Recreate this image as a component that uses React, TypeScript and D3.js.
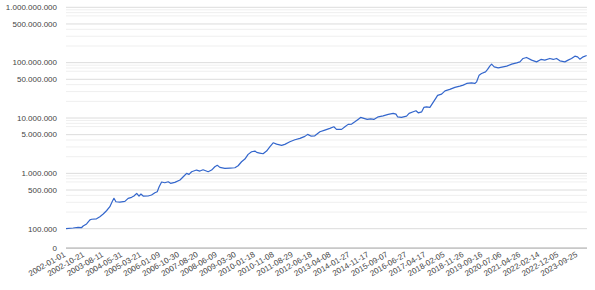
import React from "react";
import * as d3 from "d3";

const dates: string[] = [
  "2002-01-01","2002-04-21","2002-07-08","2002-09-01","2002-09-24","2002-11-16",
  "2003-01-07","2003-02-03","2003-04-19","2003-06-10","2003-08-01","2003-09-21","2003-11-12","2003-12-17",
  "2004-01-14","2004-02-14","2004-04-15","2004-07-02","2004-08-21","2004-10-14","2004-11-19",
  "2005-01-01","2005-02-06","2005-03-07","2005-04-11","2005-06-27","2005-08-19","2005-10-10","2005-11-15","2005-12-15",
  "2006-01-22","2006-03-13","2006-05-04","2006-06-10","2006-08-15","2006-11-03",
  "2007-01-04","2007-02-14","2007-03-23","2007-05-02","2007-07-17","2007-09-08","2007-10-27",
  "2008-01-14","2008-03-07","2008-04-26","2008-06-03","2008-07-13","2008-09-28","2008-12-16",
  "2009-03-03","2009-04-22","2009-06-14","2009-08-05","2009-09-24","2009-11-17",
  "2010-01-08","2010-02-04","2010-03-23","2010-05-14","2010-07-07","2010-08-26","2010-10-17","2010-12-10",
  "2011-02-25","2011-04-16","2011-07-03","2011-09-19","2011-12-06",
  "2012-02-21","2012-04-04","2012-05-23","2012-07-24","2012-10-11","2012-12-26",
  "2013-03-14","2013-05-15","2013-06-25","2013-09-12","2013-11-03","2013-12-22",
  "2014-02-15","2014-04-06","2014-05-25","2014-07-04","2014-08-23","2014-10-14","2014-12-06",
  "2015-01-25","2015-04-03","2015-06-18","2015-09-05","2015-11-21",
  "2016-01-03","2016-01-27","2016-03-28","2016-06-15","2016-07-24","2016-09-26","2016-11-08","2016-12-13",
  "2017-02-05","2017-03-10","2017-04-20","2017-06-12","2017-07-22","2017-09-13","2017-10-09","2017-12-10",
  "2018-02-01","2018-04-16","2018-07-04","2018-09-19","2018-11-10",
  "2019-01-03","2019-03-18","2019-05-09","2019-06-06","2019-07-15","2019-08-21","2019-10-22","2019-11-23","2019-12-27",
  "2020-01-24","2020-03-05","2020-05-06","2020-07-21","2020-09-14","2020-12-01",
  "2021-02-16","2021-04-07","2021-05-26","2021-07-19","2021-10-06","2021-12-21",
  "2022-02-27","2022-04-28","2022-07-15","2022-09-06","2022-10-27","2022-12-18",
  "2023-03-05","2023-04-24","2023-06-16","2023-08-07","2023-09-18","2023-10-23","2023-12-14",
  "2024-02-06",
];

const values: number[] = [
  100000,103000,106000,105000,112000,122000,
  144000,148000,151000,165000,184000,211000,250000,307000,
  354000,307000,303000,312000,354000,369000,389000,
  436000,389000,423000,389000,390000,406000,447000,466000,573000,
  697000,677000,705000,660000,688000,757000,
  894000,1000000,959000,1070000,1147000,1100000,1161000,
  1069000,1147000,1316000,1395000,1283000,1231000,1247000,
  1262000,1372000,1620000,1812000,2203000,2454000,
  2526000,2393000,2325000,2259000,2526000,3021000,3567000,3380000,
  3202000,3338000,3719000,4042000,4284000,
  4655000,5058000,4713000,4772000,5635000,6048000,
  6492000,6937000,6227000,6227000,6937000,7664000,
  7760000,8538000,9434000,10252000,9835000,9434000,9674000,
  9434000,10512000,10958000,11614000,12106000,
  11760000,10512000,10252000,10822000,12106000,12937000,13490000,12413000,
  12937000,15535000,15928000,15535000,18343000,22870000,25580000,27000000,
  30970000,32830000,35670000,37650000,39250000,
  42120000,43190000,42120000,45020000,59480000,63830000,68210000,75400000,86470000,
  93950000,84000000,80570000,84000000,86470000,93950000,
  99170000,103370000,119080000,124140000,110950000,103370000,
  114240000,110950000,119080000,114240000,119080000,107770000,
  103370000,110950000,119080000,131000000,127250000,115660000,127250000,
  134900000,
];

const tickLabels: string[] = [
  "2002-01-01","2002-10-21","2003-08-11","2004-05-31","2005-03-21","2006-01-09","2006-10-30",
  "2007-08-20","2008-06-09","2009-03-30","2010-01-18","2010-11-08","2011-08-29","2012-06-18",
  "2013-04-08","2014-01-27","2014-11-17","2015-09-07","2016-06-27","2017-04-17","2018-02-05",
  "2018-11-26","2019-09-16","2020-07-06","2021-04-26","2022-02-14","2022-12-05","2023-09-25",
];

const majorTicks: number[] = [0, 100000, 500000, 1000000, 5000000, 10000000, 50000000, 100000000, 500000000, 1000000000];
const minorMultipliers: number[] = [2, 3, 4, 7, 8, 9];

const parse = d3.utcParse("%Y-%m-%d");
const fmt = (v: number) => d3.format(",")(v).replace(/,/g, ".");

export default function App() {
  const W = 595, H = 290;
  const left = 66, right = 587, top = 7.3, logBottom = 228.7;
  const x = d3.scaleUtc()
    .domain([parse("2002-01-01")!, parse("2024-02-11")!])
    .range([left, right]);
  const yl = d3.scaleLog().domain([1e5, 1e9]).range([logBottom, top]);
  const decade = yl(1e5) - yl(1e6);
  const zeroY = yl(1e5) + decade * 0.35;
  const y = (v: number) => (v <= 0 ? zeroY : yl(v));

  const minor: number[] = [];
  for (let p = 5; p < 9; p++) {
    for (const m of minorMultipliers) minor.push(m * Math.pow(10, p));
  }

  const pts: [number, number][] = dates.map((d, i) => [x(parse(d)!), y(values[i])]);
  const line = d3.line().curve(d3.curveLinear)(pts) || "";

  return (
    <svg width={W} height={H} style={{ position: "absolute", left: 0, top: 0, fontFamily: "Arial, 'Liberation Sans', sans-serif" }}>
      <rect width={W} height={H} fill="#fff" />
      {minor.map((v) => (
        <line key={"m" + v} x1={left} x2={right} y1={y(v)} y2={y(v)} stroke="#efefef" strokeWidth={1} />
      ))}
      {majorTicks.filter((v) => v > 0).map((v) => (
        <line key={"g" + v} x1={left} x2={right} y1={y(v)} y2={y(v)} stroke="#dcdcdc" strokeWidth={1} />
      ))}
      <line x1={left} x2={right} y1={zeroY} y2={zeroY} stroke="#9e9e9e" strokeWidth={1} />
      {majorTicks.map((v) => (
        <text key={"t" + v} x={57} y={y(v)} dy="0.35em" textAnchor="end" fontSize={8} fill="#444">
          {fmt(v)}
        </text>
      ))}
      {tickLabels.map((t) => {
        const tx = x(parse(t)!);
        return (
          <text key={t} transform={`translate(${tx},${zeroY + 8}) rotate(-30)`} textAnchor="end" fontSize={8} fill="#444">
            {t}
          </text>
        );
      })}
      <path d={line} fill="none" stroke="#3366cc" strokeWidth={1.2} strokeLinejoin="round" />
    </svg>
  );
}
